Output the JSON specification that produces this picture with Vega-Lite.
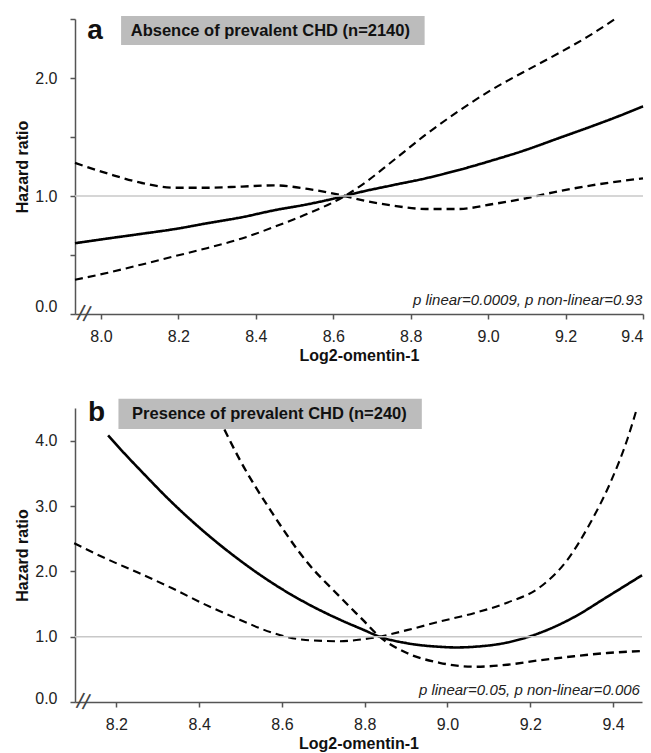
{
  "$schema": "https://vega.github.io/schema/vega-lite/v6.json",
  "padding": {"left": 14, "top": 13, "right": 5, "bottom": 3},
  "background": "white",
  "config": {
    "font": "Liberation Sans",
    "view": {"stroke": null},
    "axis": {
      "grid": false,
      "domainColor": "#555555",
      "domainWidth": 1.5,
      "tickColor": "#555555",
      "tickWidth": 1.5,
      "tickSize": 5,
      "labelFont": "Liberation Sans",
      "labelFontSize": 16,
      "labelColor": "#222222",
      "titleFont": "Liberation Sans",
      "titleFontSize": 16,
      "titleFontWeight": "bold",
      "titleColor": "#111111"
    },
    "axisX": {"labelPadding": 9, "titlePadding": 3},
    "axisY": {"labelPadding": 13, "titlePadding": 4}
  },
  "datasets": {
    "a_curves": [
      {"x": 7.933, "hr": 0.60, "series": "hr"},
      {"x": 8.018, "hr": 0.64, "series": "hr"},
      {"x": 8.106, "hr": 0.68, "series": "hr"},
      {"x": 8.191, "hr": 0.72, "series": "hr"},
      {"x": 8.276, "hr": 0.77, "series": "hr"},
      {"x": 8.364, "hr": 0.82, "series": "hr"},
      {"x": 8.449, "hr": 0.88, "series": "hr"},
      {"x": 8.534, "hr": 0.93, "series": "hr"},
      {"x": 8.630, "hr": 1.00, "series": "hr"},
      {"x": 8.666, "hr": 1.03, "series": "hr"},
      {"x": 8.751, "hr": 1.09, "series": "hr"},
      {"x": 8.839, "hr": 1.15, "series": "hr"},
      {"x": 8.924, "hr": 1.22, "series": "hr"},
      {"x": 9.009, "hr": 1.30, "series": "hr"},
      {"x": 9.097, "hr": 1.39, "series": "hr"},
      {"x": 9.182, "hr": 1.49, "series": "hr"},
      {"x": 9.267, "hr": 1.59, "series": "hr"},
      {"x": 9.332, "hr": 1.67, "series": "hr"},
      {"x": 9.400, "hr": 1.76, "series": "hr"},
      {"x": 7.933, "hr": 1.28, "series": "ci1"},
      {"x": 8.018, "hr": 1.19, "series": "ci1"},
      {"x": 8.106, "hr": 1.11, "series": "ci1"},
      {"x": 8.191, "hr": 1.07, "series": "ci1"},
      {"x": 8.276, "hr": 1.07, "series": "ci1"},
      {"x": 8.364, "hr": 1.08, "series": "ci1"},
      {"x": 8.449, "hr": 1.09, "series": "ci1"},
      {"x": 8.534, "hr": 1.06, "series": "ci1"},
      {"x": 8.630, "hr": 1.00, "series": "ci1"},
      {"x": 8.681, "hr": 0.96, "series": "ci1"},
      {"x": 8.751, "hr": 0.92, "series": "ci1"},
      {"x": 8.839, "hr": 0.89, "series": "ci1"},
      {"x": 8.924, "hr": 0.89, "series": "ci1"},
      {"x": 9.009, "hr": 0.93, "series": "ci1"},
      {"x": 9.097, "hr": 0.98, "series": "ci1"},
      {"x": 9.182, "hr": 1.04, "series": "ci1"},
      {"x": 9.267, "hr": 1.09, "series": "ci1"},
      {"x": 9.400, "hr": 1.15, "series": "ci1"},
      {"x": 7.933, "hr": 0.29, "series": "ci2"},
      {"x": 8.018, "hr": 0.35, "series": "ci2"},
      {"x": 8.106, "hr": 0.42, "series": "ci2"},
      {"x": 8.191, "hr": 0.49, "series": "ci2"},
      {"x": 8.276, "hr": 0.56, "series": "ci2"},
      {"x": 8.364, "hr": 0.64, "series": "ci2"},
      {"x": 8.449, "hr": 0.74, "series": "ci2"},
      {"x": 8.534, "hr": 0.85, "series": "ci2"},
      {"x": 8.630, "hr": 1.00, "series": "ci2"},
      {"x": 8.681, "hr": 1.11, "series": "ci2"},
      {"x": 8.751, "hr": 1.29, "series": "ci2"},
      {"x": 8.839, "hr": 1.52, "series": "ci2"},
      {"x": 8.924, "hr": 1.72, "series": "ci2"},
      {"x": 9.009, "hr": 1.90, "series": "ci2"},
      {"x": 9.097, "hr": 2.06, "series": "ci2"},
      {"x": 9.182, "hr": 2.21, "series": "ci2"},
      {"x": 9.267, "hr": 2.37, "series": "ci2"},
      {"x": 9.332, "hr": 2.51, "series": "ci2"}
    ],
    "b_curves": [
      {"x": 8.180, "hr": 4.08, "series": "hr"},
      {"x": 8.220, "hr": 3.80, "series": "hr"},
      {"x": 8.256, "hr": 3.56, "series": "hr"},
      {"x": 8.335, "hr": 3.05, "series": "hr"},
      {"x": 8.415, "hr": 2.59, "series": "hr"},
      {"x": 8.498, "hr": 2.17, "series": "hr"},
      {"x": 8.577, "hr": 1.82, "series": "hr"},
      {"x": 8.657, "hr": 1.52, "series": "hr"},
      {"x": 8.740, "hr": 1.26, "series": "hr"},
      {"x": 8.795, "hr": 1.11, "series": "hr"},
      {"x": 8.836, "hr": 1.00, "series": "hr"},
      {"x": 8.902, "hr": 0.90, "series": "hr"},
      {"x": 8.981, "hr": 0.845, "series": "hr"},
      {"x": 9.020, "hr": 0.835, "series": "hr"},
      {"x": 9.064, "hr": 0.845, "series": "hr"},
      {"x": 9.144, "hr": 0.91, "series": "hr"},
      {"x": 9.224, "hr": 1.06, "series": "hr"},
      {"x": 9.306, "hr": 1.30, "series": "hr"},
      {"x": 9.386, "hr": 1.61, "series": "hr"},
      {"x": 9.470, "hr": 1.94, "series": "hr"},
      {"x": 8.461, "hr": 4.17, "series": "ci1"},
      {"x": 8.498, "hr": 3.71, "series": "ci1"},
      {"x": 8.577, "hr": 2.89, "series": "ci1"},
      {"x": 8.657, "hr": 2.17, "series": "ci1"},
      {"x": 8.740, "hr": 1.61, "series": "ci1"},
      {"x": 8.795, "hr": 1.26, "series": "ci1"},
      {"x": 8.836, "hr": 1.00, "series": "ci1"},
      {"x": 8.902, "hr": 0.75, "series": "ci1"},
      {"x": 8.981, "hr": 0.60, "series": "ci1"},
      {"x": 9.064, "hr": 0.54, "series": "ci1"},
      {"x": 9.144, "hr": 0.57, "series": "ci1"},
      {"x": 9.224, "hr": 0.64, "series": "ci1"},
      {"x": 9.306, "hr": 0.70, "series": "ci1"},
      {"x": 9.386, "hr": 0.75, "series": "ci1"},
      {"x": 9.470, "hr": 0.78, "series": "ci1"},
      {"x": 8.098, "hr": 2.43, "series": "ci2"},
      {"x": 8.173, "hr": 2.20, "series": "ci2"},
      {"x": 8.256, "hr": 1.97, "series": "ci2"},
      {"x": 8.335, "hr": 1.74, "series": "ci2"},
      {"x": 8.415, "hr": 1.49, "series": "ci2"},
      {"x": 8.498, "hr": 1.26, "series": "ci2"},
      {"x": 8.577, "hr": 1.06, "series": "ci2"},
      {"x": 8.657, "hr": 0.95, "series": "ci2"},
      {"x": 8.740, "hr": 0.93, "series": "ci2"},
      {"x": 8.795, "hr": 0.96, "series": "ci2"},
      {"x": 8.836, "hr": 1.00, "series": "ci2"},
      {"x": 8.902, "hr": 1.10, "series": "ci2"},
      {"x": 8.981, "hr": 1.23, "series": "ci2"},
      {"x": 9.064, "hr": 1.36, "series": "ci2"},
      {"x": 9.144, "hr": 1.52, "series": "ci2"},
      {"x": 9.224, "hr": 1.76, "series": "ci2"},
      {"x": 9.289, "hr": 2.17, "series": "ci2"},
      {"x": 9.345, "hr": 2.74, "series": "ci2"},
      {"x": 9.393, "hr": 3.35, "series": "ci2"},
      {"x": 9.434, "hr": 4.01, "series": "ci2"},
      {"x": 9.458, "hr": 4.50, "series": "ci2"}
    ]
  },
  "spacing": 35,
  "vconcat": [
    {
      "width": 568,
      "height": 295,
      "layer": [
        {
          "data": {"name": "a_curves"},
          "mark": {"type": "line", "color": "#000000", "interpolate": "monotone"},
          "encoding": {
            "x": {"field": "x", "type": "quantitative",
              "scale": {"domain": [7.933, 9.4], "nice": false, "zero": false},
              "axis": {"title": "Log2-omentin-1", "values": [8.0, 8.2, 8.4, 8.6, 8.8, 9.0, 9.2, 9.4], "format": ".1f"}},
            "y": {"field": "hr", "type": "quantitative",
              "scale": {"domain": [0, 2.5], "nice": false, "zero": false},
              "axis": {"title": "Hazard ratio", "values": [0, 0.5, 1, 1.5, 2, 2.5], "labelExpr": "datum.value % 1 === 0 ? format(datum.value, '.1f') : ''", "labelOffset": {"condition": {"test": "datum.value === 0", "value": -8}, "value": 0}}},
            "strokeDash": {"field": "series", "type": "nominal", "scale": {"domain": ["hr", "ci1", "ci2"], "range": [[1, 0], [8, 5], [8, 5]]}, "legend": null},
            "strokeWidth": {"field": "series", "type": "nominal", "scale": {"domain": ["hr", "ci1", "ci2"], "range": [2.6, 2.1, 2.1]}, "legend": null}
          }
        },
        {
          "data": {"values": [{}]},
          "mark": {"type": "rule", "color": "#c8c8c8", "strokeWidth": 1.5},
          "encoding": {"y": {"datum": 1, "type": "quantitative"}}
        },
        {
          "data": {"values": [{}]},
          "mark": {"type": "rect", "color": "#bcbcbc"},
          "encoding": {"x": {"datum": 8.052, "type": "quantitative"}, "x2": {"datum": 8.836}, "y": {"datum": 2.28, "type": "quantitative"}, "y2": {"datum": 2.525}}
        },
        {
          "data": {"values": [{}]},
          "mark": {"type": "text", "text": "Absence of prevalent CHD (n=2140)", "fontSize": 16.5, "fontWeight": "bold", "align": "left", "baseline": "middle", "color": "#111111"},
          "encoding": {"x": {"datum": 8.077, "type": "quantitative"}, "y": {"datum": 2.40, "type": "quantitative"}}
        },
        {
          "data": {"values": [{}]},
          "mark": {"type": "text", "text": "a", "fontSize": 28, "fontWeight": "bold", "align": "center", "baseline": "middle", "color": "#111111"},
          "encoding": {"x": {"datum": 7.985, "type": "quantitative"}, "y": {"datum": 2.40, "type": "quantitative"}}
        },
        {
          "data": {"values": [{}]},
          "mark": {"type": "text", "text": "p linear=0.0009, p non-linear=0.93", "fontSize": 15, "fontStyle": "italic", "align": "right", "baseline": "middle", "color": "#222222"},
          "encoding": {"x": {"datum": 9.398, "type": "quantitative"}, "y": {"datum": 0.12, "type": "quantitative"}}
        },
        {
          "data": {"values": [{}]},
          "mark": {"type": "text", "text": "//", "fontSize": 22, "align": "center", "baseline": "middle", "color": "#444444", "angle": 12},
          "encoding": {"x": {"datum": 7.956, "type": "quantitative"}, "y": {"datum": 0, "type": "quantitative"}}
        }
      ]
    },
    {
      "width": 567,
      "height": 294,
      "layer": [
        {
          "data": {"name": "b_curves"},
          "mark": {"type": "line", "color": "#000000", "interpolate": "monotone"},
          "encoding": {
            "x": {"field": "x", "type": "quantitative",
              "scale": {"domain": [8.1, 9.47], "nice": false, "zero": false},
              "axis": {"title": "Log2-omentin-1", "values": [8.2, 8.4, 8.6, 8.8, 9.0, 9.2, 9.4], "format": ".1f"}},
            "y": {"field": "hr", "type": "quantitative",
              "scale": {"domain": [0, 4.5], "nice": false, "zero": false},
              "axis": {"title": "Hazard ratio", "values": [0, 0.5, 1, 1.5, 2, 2.5, 3, 3.5, 4, 4.5], "labelExpr": "datum.value % 1 === 0 ? format(datum.value, '.1f') : ''", "labelOffset": {"condition": {"test": "datum.value === 0", "value": -4}, "value": 0}}},
            "strokeDash": {"field": "series", "type": "nominal", "scale": {"domain": ["hr", "ci1", "ci2"], "range": [[1, 0], [8, 5], [8, 5]]}, "legend": null},
            "strokeWidth": {"field": "series", "type": "nominal", "scale": {"domain": ["hr", "ci1", "ci2"], "range": [2.6, 2.1, 2.1]}, "legend": null}
          }
        },
        {
          "data": {"values": [{}]},
          "mark": {"type": "rule", "color": "#c8c8c8", "strokeWidth": 1.5},
          "encoding": {"y": {"datum": 1, "type": "quantitative"}}
        },
        {
          "data": {"values": [{}]},
          "mark": {"type": "rect", "color": "#bcbcbc"},
          "encoding": {"x": {"datum": 8.205, "type": "quantitative"}, "x2": {"datum": 8.938}, "y": {"datum": 4.18, "type": "quantitative"}, "y2": {"datum": 4.64}}
        },
        {
          "data": {"values": [{}]},
          "mark": {"type": "text", "text": "Presence of prevalent CHD (n=240)", "fontSize": 16.5, "fontWeight": "bold", "align": "left", "baseline": "middle", "color": "#111111"},
          "encoding": {"x": {"datum": 8.238, "type": "quantitative"}, "y": {"datum": 4.41, "type": "quantitative"}}
        },
        {
          "data": {"values": [{}]},
          "mark": {"type": "text", "text": "b", "fontSize": 28, "fontWeight": "bold", "align": "center", "baseline": "middle", "color": "#111111"},
          "encoding": {"x": {"datum": 8.152, "type": "quantitative"}, "y": {"datum": 4.42, "type": "quantitative"}}
        },
        {
          "data": {"values": [{}]},
          "mark": {"type": "text", "text": "p linear=0.05, p non-linear=0.006", "fontSize": 15, "fontStyle": "italic", "align": "right", "baseline": "middle", "color": "#222222"},
          "encoding": {"x": {"datum": 9.465, "type": "quantitative"}, "y": {"datum": 0.18, "type": "quantitative"}}
        },
        {
          "data": {"values": [{}]},
          "mark": {"type": "text", "text": "//", "fontSize": 22, "align": "center", "baseline": "middle", "color": "#444444", "angle": 12},
          "encoding": {"x": {"datum": 8.12, "type": "quantitative"}, "y": {"datum": 0, "type": "quantitative"}}
        }
      ]
    }
  ]
}
